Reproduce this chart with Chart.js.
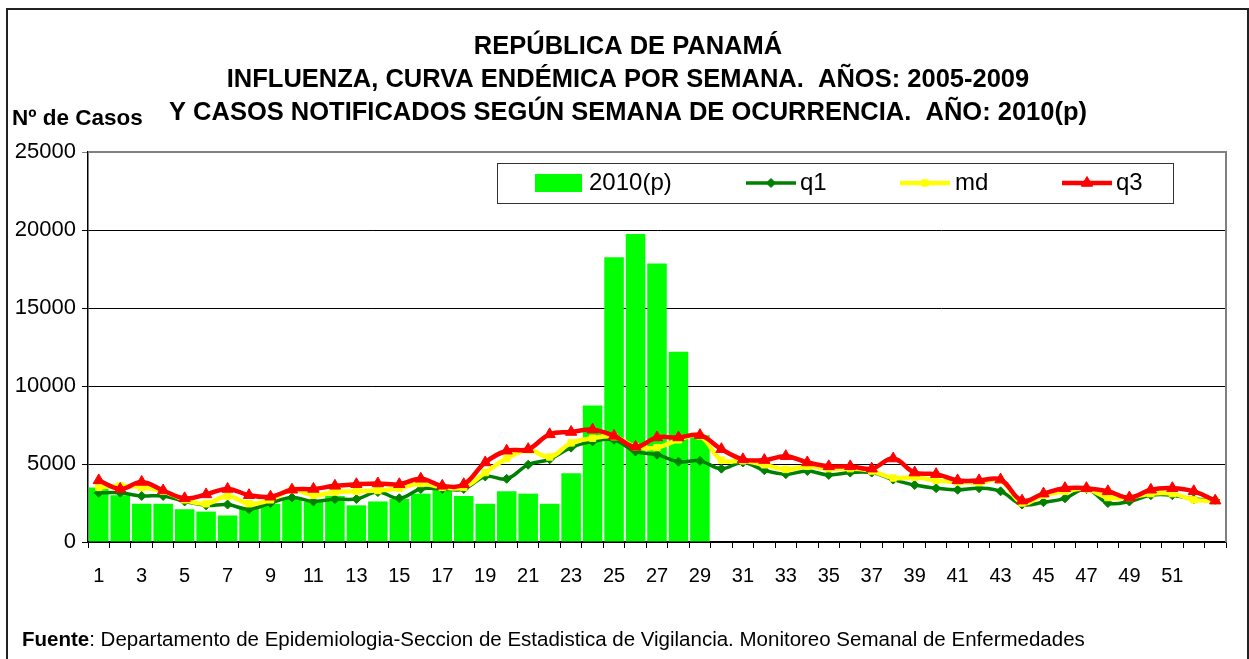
<!DOCTYPE html>
<html>
<head>
<meta charset="utf-8">
<title>Influenza Panamá</title>
<script src="https://cdn.jsdelivr.net/npm/chart.js@4.4.1/dist/chart.umd.min.js"></script>
<style>
  html, body { margin: 0; padding: 0; background: #fff; }
  #wrap { width: 1249px; height: 659px; }
</style>
</head>
<body>
<div id="wrap"><canvas id="chart" width="1249" height="659"></canvas></div>
<script>
// semanas epidemiologicas
var semanas = ['1','2','3','4','5','6','7','8','9','10','11','12','13','14','15','16','17','18','19','20',
  '21','22','23','24','25','26','27','28','29','30','31','32','33','34','35','36','37','38','39','40',
  '41','42','43','44','45','46','47','48','49','50','51','52','53'];

// casos 2010 (p), solo hasta la semana 29
var casos2010 = [3500, 3000, 2450, 2450, 2100, 1950, 1700, 2200, 2450, 2750,
  2600, 2950, 2350, 2600, 2750, 3100, 3350, 2950, 2450, 3250,
  3100, 2450, 4400, 8750, 18250, 19750, 17850, 12200, 6850];

var q1 = [3150, 3150, 2950, 2950, 2600, 2350, 2400, 2100, 2500, 2850,
  2600, 2750, 2750, 3200, 2800, 3400, 3400, 3400, 4200, 4050,
  4950, 5300, 6050, 6450, 6550, 5800, 5600, 5150, 5200, 4700,
  5100, 4600, 4350, 4550, 4300, 4450, 4450, 4000, 3650, 3450,
  3350, 3450, 3250, 2400, 2550, 2800, 3400, 2500, 2600, 3000,
  3000, 2750, 2700];

var md = [3500, 3600, 3500, 3250, 2700, 2450, 2950, 2450, 2700, 3350,
  3000, 3200, 3250, 3300, 3450, 3750, 3500, 3500, 4450, 5350,
  5900, 5450, 6350, 6650, 6750, 6100, 6050, 6550, 6800, 5250,
  5200, 4950, 4650, 4850, 4700, 4700, 4550, 4100, 4150, 3950,
  3850, 3800, 3950, 2500, 3000, 3250, 3400, 2850, 2850, 3100,
  3100, 2700, 2650];

var q3 = [3950, 3400, 3850, 3300, 2800, 3050, 3400, 3000, 2900, 3350,
  3400, 3600, 3700, 3750, 3700, 4050, 3600, 3700, 5100, 5850,
  5950, 6900, 7050, 7200, 6800, 6100, 6700, 6700, 6850, 5950,
  5300, 5250, 5500, 5100, 4850, 4850, 4700, 5350, 4450, 4350,
  3950, 3950, 4000, 2650, 3100, 3450, 3450, 3250, 2850, 3350,
  3450, 3250, 2650];

var yTicks = [0, 5000, 10000, 15000, 20000, 25000];

var titulo = ['REPÚBLICA DE PANAMÁ',
  'INFLUENZA, CURVA ENDÉMICA POR SEMANA.  AÑOS: 2005-2009',
  'Y CASOS NOTIFICADOS SEGÚN SEMANA DE OCURRENCIA.  AÑO: 2010(p)'];

var FONT = '"Liberation Sans", Arial, Helvetica, sans-serif';

// marco, titulo, borde del area, leyenda y textos sueltos
var extras = {
  id: 'extras',
  afterDraw: function (chart) {
    var ctx = chart.ctx;
    var a = chart.chartArea;
    var ds = chart.data.datasets;
    ctx.save();

    // marco exterior
    ctx.strokeStyle = '#222';
    ctx.lineWidth = 2;
    ctx.strokeRect(7, 9, 1241, 700);

    // borde gris del area de trazado (arriba y derecha)
    ctx.strokeStyle = '#808080';
    ctx.lineWidth = 2;
    ctx.beginPath();
    ctx.moveTo(a.left, a.top);
    ctx.lineTo(a.right, a.top);
    ctx.lineTo(a.right, a.bottom);
    ctx.stroke();

    // titulo
    ctx.fillStyle = '#000';
    ctx.textBaseline = 'middle';
    ctx.textAlign = 'center';
    ctx.font = 'bold 25.5px ' + FONT;
    titulo.forEach(function (t, i) { ctx.fillText(t, 628, 47 + i * 33); });

    // etiqueta del eje
    ctx.textAlign = 'left';
    ctx.font = 'bold 22.5px ' + FONT;
    ctx.fillText('Nº de Casos', 12, 119);

    // leyenda
    ctx.fillStyle = '#fff';
    ctx.fillRect(497, 163, 676, 40);
    ctx.strokeStyle = '#333';
    ctx.lineWidth = 1;
    ctx.strokeRect(497.5, 163.5, 676, 40);

    var ly = 183;
    ctx.font = '24px ' + FONT;
    ctx.fillStyle = ds[0].backgroundColor;
    ctx.fillRect(535, 174, 47, 18);
    ctx.fillStyle = '#000';
    ctx.fillText(ds[0].label, 589, ly);

    var items = [[1, 746, 800], [2, 900, 955], [3, 1062, 1116]];
    items.forEach(function (it) {
      var d = ds[it[0]];
      ctx.strokeStyle = d.borderColor;
      ctx.fillStyle = d.borderColor;
      ctx.lineWidth = d.borderWidth;
      ctx.beginPath();
      ctx.moveTo(it[1], ly);
      ctx.lineTo(it[1] + 50, ly);
      ctx.stroke();
      ctx.lineWidth = 1;
      Chart.helpers.drawPoint(ctx, {
        pointStyle: d.pointStyle, radius: d.pointRadius, rotation: 0, borderWidth: 1
      }, it[1] + 25, ly);
      ctx.fillStyle = '#000';
      ctx.fillText(d.label, it[2], ly);
    });

    // fuente
    ctx.font = 'bold 20.5px ' + FONT;
    ctx.fillText('Fuente', 22, 640);
    var w = ctx.measureText('Fuente').width;
    ctx.font = '20.5px ' + FONT;
    ctx.fillText(': Departamento de Epidemiologia-Seccion de Estadistica de Vigilancia. Monitoreo Semanal de Enfermedades', 22 + w, 640);

    ctx.restore();
  }
};

var ctx = document.getElementById('chart').getContext('2d');
var chart = new Chart(ctx, {
  type: 'bar',
  data: {
    labels: semanas,
    datasets: [{
      label: '2010(p)',
      data: casos2010,
      backgroundColor: '#00FF00',
      barPercentage: 0.91,
      categoryPercentage: 1,
      order: 4
    }, {
      type: 'line',
      label: 'q1',
      data: q1,
      borderColor: '#008000',
      backgroundColor: '#008000',
      borderWidth: 3.5,
      pointStyle: 'rectRot',
      pointRadius: 4.5,
      pointBorderWidth: 1,
      tension: 0.4,
      order: 3
    }, {
      type: 'line',
      label: 'md',
      data: md,
      borderColor: '#FFFF00',
      backgroundColor: '#FFFF00',
      borderWidth: 4.5,
      pointStyle: 'rect',
      pointRadius: 4.5,
      pointBorderWidth: 1,
      tension: 0.4,
      order: 2
    }, {
      type: 'line',
      label: 'q3',
      data: q3,
      borderColor: '#FF0000',
      backgroundColor: '#FF0000',
      borderWidth: 4.5,
      pointStyle: 'triangle',
      pointRadius: 6.5,
      pointBorderWidth: 1,
      tension: 0.4,
      order: 1
    }]
  },
  options: {
    responsive: false,
    animation: false,
    devicePixelRatio: 1,
    layout: { padding: { left: 0, right: 23, top: 152, bottom: 0 } },
    plugins: {
      legend: { display: false },
      tooltip: { enabled: false },
      title: { display: false }
    },
    scales: {
      x: {
        offset: true,
        afterFit: function (s) { s.height = 117; },
        grid: { offset: true, drawOnChartArea: false, color: '#000', tickLength: 6 },
        border: { color: '#000', width: 1.5 },
        ticks: {
          autoSkip: false,
          maxRotation: 0,
          padding: 16,
          color: '#000',
          font: { family: FONT, size: 20 },
          callback: function (v, i) { return (i % 2 === 0 && i < 52) ? semanas[i] : ''; }
        }
      },
      y: {
        min: 0,
        max: 25000,
        afterFit: function (s) { s.width = 88; },
        afterBuildTicks: function (s) { s.ticks = yTicks.map(function (v) { return { value: v }; }); },
        grid: {
          color: function (c) { return c.tick && c.tick.value === 25000 ? '#808080' : '#000'; },
          tickLength: 6
        },
        border: { color: '#000', width: 1.5 },
        ticks: {
          padding: 6,
          color: '#000',
          font: { family: FONT, size: 22 },
          callback: function (v) { return String(v); }
        }
      }
    }
  },
  plugins: [extras]
});
</script>
</body>
</html>
